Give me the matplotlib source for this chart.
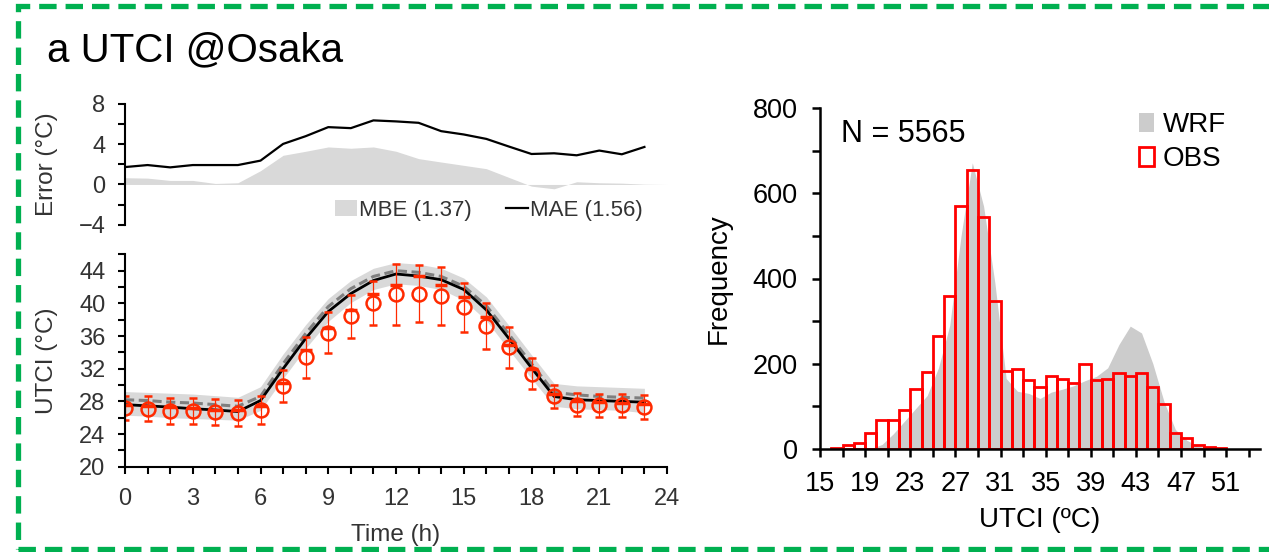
import numpy as np
import matplotlib.pyplot as plt
from matplotlib.patches import Rectangle, Patch
from matplotlib.lines import Line2D
from matplotlib.ticker import MultipleLocator

plt.rcParams['font.family'] = ['Liberation Sans', 'DejaVu Sans']

# hourly error statistics
hours = np.arange(24)
mae = [1.73, 1.93, 1.7, 1.93, 1.93, 1.93, 2.37, 4.03, 4.8, 5.7, 5.6, 6.37,
       6.27, 6.13, 5.3, 4.97, 4.53, 3.77, 3.03, 3.1, 2.9, 3.37, 3.0, 3.73]
mbe_hours = np.arange(25)
mbe = [0.67, 0.63, 0.4, 0.4, 0.1, 0.17, 1.37, 2.9, 3.3, 3.73, 3.6, 3.73,
       3.3, 2.57, 2.23, 1.9, 1.57, 0.7, -0.17, -0.43, 0.27, 0.17, 0.13, 0.03, 0.0]

# diurnal UTCI
wrf_mean = [27.6, 27.45, 27.3, 27.1, 26.95, 26.75, 28.1, 32.0, 35.7, 39.0, 41.2, 42.8,
            43.6, 43.35, 42.9, 41.7, 39.2, 35.7, 32.1, 28.6, 28.2, 28.1, 28.0, 27.9]
wrf_dash = [28.2, 28.1, 27.9, 27.8, 27.6, 27.4, 28.6, 32.6, 36.3, 39.6, 41.8, 43.3,
            44.0, 43.8, 43.3, 42.1, 39.7, 36.2, 32.6, 29.1, 28.8, 28.6, 28.5, 28.4]
wrf_hi = [29.2, 29.1, 29.0, 28.9, 28.7, 28.5, 29.8, 33.8, 37.4, 40.6, 42.8, 44.3,
          45.0, 44.8, 44.3, 43.1, 40.8, 37.3, 33.7, 30.2, 29.9, 29.8, 29.7, 29.6]
wrf_lo = [26.3, 26.2, 26.0, 25.9, 25.8, 25.7, 26.9, 30.8, 34.5, 37.8, 40.1, 41.7,
          42.4, 42.2, 41.7, 40.4, 37.9, 34.3, 30.8, 27.4, 27.1, 27.0, 26.9, 26.6]
wrf_at_obs = [27.6, 27.4, 27.3, 27.2, 27.0, 26.95, 27.4, 30.3, 34.25, 37.0, 39.2, 41.1,
              42.3, 43.3, 42.3, 40.8, 38.3, 34.9, 32.0, 28.9, 28.0, 27.9, 27.8, 27.7]
obs_mean = [27.2, 27.1, 26.8, 26.8, 26.7, 26.6, 26.9, 29.9, 33.4, 36.4, 38.4, 40.1,
            41.1, 41.2, 40.9, 39.5, 37.2, 34.6, 31.4, 28.6, 27.6, 27.5, 27.5, 27.3]
obs_err = [1.5, 1.5, 1.6, 1.6, 1.6, 1.6, 1.7, 2.0, 2.5, 2.5, 2.6, 2.7,
           3.7, 3.5, 3.5, 3.0, 2.8, 2.5, 1.9, 1.45, 1.4, 1.4, 1.4, 1.5]

# histogram (1 degC bins)
bin_left = np.arange(16, 51)
obs_counts = [2, 9, 13, 36, 67, 67, 92, 141, 180, 264, 359, 570, 654, 545, 347, 182,
              188, 162, 144, 172, 163, 154, 198, 162, 164, 177, 170, 177, 144, 105,
              38, 24, 9, 3, 2]
wrf_x = np.arange(16.5, 52, 1.0)
wrf_counts = [0, 0, 0, 0, 10, 35, 65, 95, 125, 190, 290, 500, 672, 570, 390, 165,
              135, 130, 118, 133, 140, 148, 160, 170, 190, 245, 288, 272, 200, 110,
              45, 20, 6, 2, 1, 0]

W, H = 1269, 552
fig = plt.figure(figsize=(W / 100, H / 100), dpi=100)


def px_axes(left, top, right, bottom):
    return fig.add_axes([left / W, 1 - bottom / H, (right - left) / W, (bottom - top) / H])


lab_col = '#333333'
red = '#FF2A00'

# ---- error panel
ax1 = px_axes(125, 104, 667, 224.7)
ax1.fill_between(mbe_hours, mbe, 0, color='#D9D9D9', lw=0)
ax1.plot(hours, mae, color='black', lw=1.6)
ax1.set_xlim(0, 24)
ax1.set_ylim(-4, 8)
ax1.yaxis.set_major_locator(MultipleLocator(4))
ax1.yaxis.set_minor_locator(MultipleLocator(2))
for s in ['top', 'right', 'bottom']:
    ax1.spines[s].set_visible(False)
ax1.spines['left'].set_linewidth(1.5)
ax1.set_xticks([])
ax1.tick_params(axis='y', which='both', direction='out', width=1.5, length=5,
                labelsize=17, labelcolor=lab_col, pad=9)
ax1.set_ylabel('Error (°C)', fontsize=17.5, color=lab_col)
ax1.yaxis.set_label_coords(-0.124, 0.5)
h1 = [Patch(facecolor='#D9D9D9', edgecolor='none'), Line2D([], [], color='black', lw=1.6)]
ax1.legend(h1, ['MBE (1.37)', 'MAE (1.56)'], ncol=2, frameon=False, fontsize=16,
           loc='upper left', bbox_to_anchor=(335 / W, 1 - 200 / H), bbox_transform=fig.transFigure,
           borderpad=0, borderaxespad=0, handlelength=1.0, handletextpad=0.1,
           columnspacing=1.5, labelcolor=lab_col)

# ---- UTCI diurnal panel
ax2 = px_axes(125, 254.4, 667, 466.7)
ax2.fill_between(hours, wrf_lo, wrf_hi, color='#D9D9D9', lw=0)
ax2.plot(hours, wrf_dash, color='#7F7F7F', lw=2.2, ls=(0, (3, 1.5)))
ax2.plot(hours, wrf_mean, color='black', lw=2.0)
ax2.plot(hours, wrf_at_obs, ls='none', marker='_', ms=9, mew=2.5, color=red)
ax2.errorbar(hours, obs_mean, yerr=obs_err, fmt='o', ms=10, mfc='none', mec=red,
             mew=1.8, ecolor=red, elinewidth=0.9, capsize=3, capthick=0.9)
ax2.set_xlim(0, 24)
ax2.set_ylim(20, 46)
ax2.xaxis.set_major_locator(MultipleLocator(3))
ax2.xaxis.set_minor_locator(MultipleLocator(1))
ax2.yaxis.set_minor_locator(MultipleLocator(2))
ax2.set_yticks(np.arange(20, 45, 4))
for s in ['top', 'right']:
    ax2.spines[s].set_visible(False)
for s in ['left', 'bottom']:
    ax2.spines[s].set_linewidth(1.5)
ax2.tick_params(which='both', direction='out', width=1.5, length=5, labelsize=17,
                labelcolor=lab_col)
ax2.tick_params(axis='y', pad=9)
ax2.tick_params(axis='x', pad=10)
ax2.set_ylabel('UTCI (°C)', fontsize=17.5, color=lab_col)
ax2.yaxis.set_label_coords(-0.124, 0.5)
ax2.set_xlabel('Time (h)', fontsize=17.5, color=lab_col)
ax2.xaxis.set_label_coords(0.5, -0.27)

# ---- histogram panel
ax3 = px_axes(820, 108.3, 1260, 448.7)
ax3.fill_between(wrf_x, wrf_counts, 0, color='#CCCCCC', lw=0)
ax3.bar(bin_left, obs_counts, width=1, align='edge', facecolor='none',
        edgecolor='#FF0000', lw=2)
ax3.set_xlim(15, 54)
ax3.set_ylim(0, 800)
ax3.set_xticks(np.arange(15, 54, 2), minor=True)
ax3.set_xticks(np.arange(15, 52, 4))
ax3.yaxis.set_major_locator(MultipleLocator(200))
ax3.yaxis.set_minor_locator(MultipleLocator(100))
for s in ['top', 'right']:
    ax3.spines[s].set_visible(False)
for s in ['left', 'bottom']:
    ax3.spines[s].set_linewidth(1.8)
ax3.tick_params(which='both', direction='out', width=1.8, length=6, labelsize=19.5, pad=10)
ax3.set_xlabel('UTCI (ºC)', fontsize=20)
ax3.xaxis.set_label_coords(0.5, -0.17)
ax3.set_ylabel('Frequency', fontsize=20)
ax3.yaxis.set_label_coords(-0.2, 0.5)
ax3.text(841 / W, 1 - 142 / H, 'N = 5565', transform=fig.transFigure, fontsize=22,
         va='baseline', ha='left')
h3 = [Patch(facecolor='#CCCCCC', edgecolor='none'),
      Patch(facecolor='white', edgecolor='#FF0000', lw=2)]
ax3.legend(h3, ['WRF', 'OBS'], frameon=False, fontsize=20, loc='upper left',
           bbox_to_anchor=(1139 / W, 1 - 112 / H), bbox_transform=fig.transFigure,
           borderpad=0, borderaxespad=0, handlelength=0.55, handleheight=0.7,
           handletextpad=0.3, labelspacing=0.3)

# title and border
fig.text(47 / W, 1 - 61 / H, 'a UTCI @Osaka', fontsize=29, va='baseline', ha='left')
fig.add_artist(Rectangle((17.5 / W, 3 / H), (1290 - 17.5) / W, 543.5 / H,
                         transform=fig.transFigure, fill=False, edgecolor='#00B050',
                         lw=3.8, ls=(0, (3.3, 1.7))))

fig.savefig('out.png', dpi=100)
